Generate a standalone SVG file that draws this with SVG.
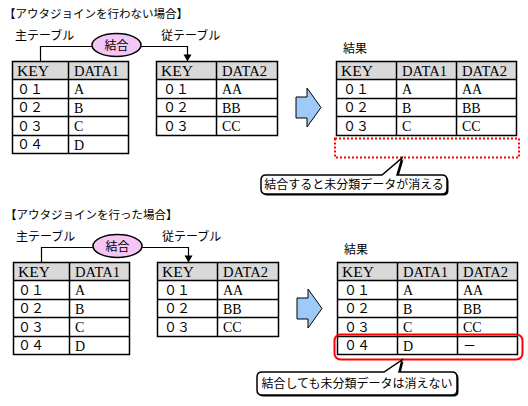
<svg xmlns="http://www.w3.org/2000/svg" width="528" height="406" viewBox="0 0 528 406">
<defs>
<style>
.bg{fill:#fff}
.hdr{fill:#d9d9d9}
.ln{fill:none;stroke:#000;stroke-width:1.5}
.t{font-family:"Liberation Serif","Noto Sans CJK JP",serif;font-size:14px;fill:#000}
.d{font-family:"Noto Sans CJK JP",sans-serif;font-size:13px;fill:#000}
.j{font-family:"Noto Sans CJK JP",sans-serif;font-size:12px;fill:#000}
.ttl{font-family:"Noto Sans CJK JP",sans-serif;font-size:11.5px;fill:#000}
.ell{fill:#f3c6f3;stroke:#000;stroke-width:1.5}
.conn{fill:none;stroke:#000;stroke-width:1.2}
.bigarrow{fill:#9fcaf8;stroke:#000;stroke-width:1}
.callout{fill:#fff;stroke:#000;stroke-width:1.5}
.shadow{fill:#000}
</style>
</defs>
<rect x="0" y="0" width="528" height="406" fill="#fff"/>

<!-- ===== Top section ===== -->
<g id="section-top">
<text class="ttl" x="4" y="17.5">【アウタジョインを行わない場合】</text>
<text class="j" x="15" y="39.5">主テーブル</text>
<text class="j" x="161" y="39.5">従テーブル</text>

<g id="top-connectors">
<path class="conn" d="M40.5,61.5 V46.5 H92"/>
<path class="conn" d="M141,46.5 H187.5 V55"/>
<path d="M183.5,54.5 L191.5,54.5 L187.5,61.5 Z" fill="#000"/>
</g>

<g id="top-join">
<ellipse class="ell" cx="116.5" cy="45" rx="24.5" ry="11.5"/>
<text class="j" x="116.5" y="50" text-anchor="middle">結合</text>
</g>

<g id="top-main-table">
<rect class="bg" x="12.5" y="61.5" width="116" height="92"/>
<rect class="hdr" x="12.5" y="61.5" width="116" height="18"/>
<path class="ln" d="M12.5,61.5 H128.5 V153.5 H12.5 Z M12.5,79.5 H128.5 M12.5,98.5 H128.5 M12.5,116.5 H128.5 M12.5,135.5 H128.5 M68.5,61.5 V153.5"/>
<text class="t" x="17" y="75.5" textLength="32" lengthAdjust="spacingAndGlyphs">KEY</text>
<text class="t" x="74" y="75.5" textLength="45" lengthAdjust="spacingAndGlyphs">DATA1</text>
<text class="d" x="17" y="93.5">０１</text><text class="t" x="74" y="94">A</text>
<text class="d" x="17" y="112">０２</text><text class="t" x="74" y="112.5">B</text>
<text class="d" x="17" y="130.5">０３</text><text class="t" x="74" y="131">C</text>
<text class="d" x="17" y="149">０４</text><text class="t" x="74" y="149.5">D</text>
</g>

<g id="top-sub-table">
<rect class="bg" x="156.5" y="61.5" width="121" height="74"/>
<rect class="hdr" x="156.5" y="61.5" width="121" height="18"/>
<path class="ln" d="M156.5,61.5 H277.5 V135.5 H156.5 Z M156.5,79.5 H277.5 M156.5,98.5 H277.5 M156.5,116.5 H277.5 M216.5,61.5 V135.5"/>
<text class="t" x="161" y="75.5" textLength="32" lengthAdjust="spacingAndGlyphs">KEY</text>
<text class="t" x="222" y="75.5" textLength="45" lengthAdjust="spacingAndGlyphs">DATA2</text>
<text class="d" x="163" y="93.5">０１</text><text class="t" x="222" y="94">AA</text>
<text class="d" x="163" y="112">０２</text><text class="t" x="222" y="112.5">BB</text>
<text class="d" x="163" y="130.5">０３</text><text class="t" x="222" y="131">CC</text>
</g>

<g id="top-arrow">
<polygon class="bigarrow" points="296,97 307,97 307,88 321,107.5 307,127 307,118 296,118"/>
</g>

<g id="top-result-table">
<text class="j" x="343" y="53">結果</text>
<rect class="bg" x="336.5" y="61.5" width="180" height="74"/>
<rect class="hdr" x="336.5" y="61.5" width="180" height="18"/>
<path class="ln" d="M336.5,61.5 H516.5 V135.5 H336.5 Z M336.5,79.5 H516.5 M336.5,98.5 H516.5 M336.5,116.5 H516.5 M396.5,61.5 V135.5 M456.5,61.5 V135.5"/>
<text class="t" x="341" y="75.5" textLength="32" lengthAdjust="spacingAndGlyphs">KEY</text>
<text class="t" x="402" y="75.5" textLength="45" lengthAdjust="spacingAndGlyphs">DATA1</text>
<text class="t" x="462" y="75.5" textLength="45" lengthAdjust="spacingAndGlyphs">DATA2</text>
<text class="d" x="343" y="93.5">０１</text><text class="t" x="402" y="94">A</text><text class="t" x="462" y="94">AA</text>
<text class="d" x="343" y="112">０２</text><text class="t" x="402" y="112.5">B</text><text class="t" x="462" y="112.5">BB</text>
<text class="d" x="343" y="130.5">０３</text><text class="t" x="402" y="131">C</text><text class="t" x="462" y="131">CC</text>
</g>

<g id="top-missing-row">
<rect x="335" y="138.5" width="184" height="19" fill="none" stroke="#f00" stroke-width="2" stroke-dasharray="2 2"/>
</g>

<g id="top-callout">
<path class="shadow" d="M267.5,176.5 H383.5 L403.5,159.5 L398.5,176.5 H443.5 Q448.5,176.5 448.5,181.5 V190.5 Q448.5,195.5 443.5,195.5 H267.5 Q262.5,195.5 262.5,190.5 V181.5 Q262.5,176.5 267.5,176.5 Z"/>
<path class="callout" d="M266,175 H382 L402,158 L397,175 H442 Q447,175 447,180 V189 Q447,194 442,194 H266 Q261,194 261,189 V180 Q261,175 266,175 Z"/>
<text class="j" x="354" y="189" text-anchor="middle">結合すると未分類データが消える</text>
</g>
</g>

<!-- ===== Bottom section ===== -->
<g id="section-bottom">
<g transform="translate(1,201)">
<text class="ttl" x="4" y="17.5">【アウタジョインを行った場合】</text>
<text class="j" x="15" y="39.5">主テーブル</text>
<text class="j" x="161" y="39.5">従テーブル</text>

<g id="bottom-connectors">
<path class="conn" d="M40.5,61.5 V46.5 H92"/>
<path class="conn" d="M141,46.5 H187.5 V55"/>
<path d="M183.5,54.5 L191.5,54.5 L187.5,61.5 Z" fill="#000"/>
</g>

<g id="bottom-join">
<ellipse class="ell" cx="116.5" cy="45" rx="24.5" ry="11.5"/>
<text class="j" x="116.5" y="50" text-anchor="middle">結合</text>
</g>

<g id="bottom-main-table">
<rect class="bg" x="12.5" y="61.5" width="116" height="92"/>
<rect class="hdr" x="12.5" y="61.5" width="116" height="18"/>
<path class="ln" d="M12.5,61.5 H128.5 V153.5 H12.5 Z M12.5,79.5 H128.5 M12.5,98.5 H128.5 M12.5,116.5 H128.5 M12.5,135.5 H128.5 M68.5,61.5 V153.5"/>
<text class="t" x="17" y="75.5" textLength="32" lengthAdjust="spacingAndGlyphs">KEY</text>
<text class="t" x="74" y="75.5" textLength="45" lengthAdjust="spacingAndGlyphs">DATA1</text>
<text class="d" x="17" y="93.5">０１</text><text class="t" x="74" y="94">A</text>
<text class="d" x="17" y="112">０２</text><text class="t" x="74" y="112.5">B</text>
<text class="d" x="17" y="130.5">０３</text><text class="t" x="74" y="131">C</text>
<text class="d" x="17" y="149">０４</text><text class="t" x="74" y="149.5">D</text>
</g>

<g id="bottom-sub-table">
<rect class="bg" x="156.5" y="61.5" width="121" height="74"/>
<rect class="hdr" x="156.5" y="61.5" width="121" height="18"/>
<path class="ln" d="M156.5,61.5 H277.5 V135.5 H156.5 Z M156.5,79.5 H277.5 M156.5,98.5 H277.5 M156.5,116.5 H277.5 M216.5,61.5 V135.5"/>
<text class="t" x="161" y="75.5" textLength="32" lengthAdjust="spacingAndGlyphs">KEY</text>
<text class="t" x="222" y="75.5" textLength="45" lengthAdjust="spacingAndGlyphs">DATA2</text>
<text class="d" x="163" y="93.5">０１</text><text class="t" x="222" y="94">AA</text>
<text class="d" x="163" y="112">０２</text><text class="t" x="222" y="112.5">BB</text>
<text class="d" x="163" y="130.5">０３</text><text class="t" x="222" y="131">CC</text>
</g>

<g id="bottom-arrow">
<polygon class="bigarrow" points="296,97 307,97 307,88 321,107.5 307,127 307,118 296,118"/>
</g>

<g id="bottom-result-table">
<text class="j" x="343" y="53">結果</text>
<rect class="bg" x="336.5" y="61.5" width="180" height="92"/>
<rect class="hdr" x="336.5" y="61.5" width="180" height="18"/>
<path class="ln" d="M336.5,61.5 H516.5 V153.5 H336.5 Z M336.5,79.5 H516.5 M336.5,98.5 H516.5 M336.5,116.5 H516.5 M336.5,135.5 H516.5 M396.5,61.5 V153.5 M456.5,61.5 V153.5"/>
<text class="t" x="341" y="75.5" textLength="32" lengthAdjust="spacingAndGlyphs">KEY</text>
<text class="t" x="402" y="75.5" textLength="45" lengthAdjust="spacingAndGlyphs">DATA1</text>
<text class="t" x="462" y="75.5" textLength="45" lengthAdjust="spacingAndGlyphs">DATA2</text>
<text class="d" x="343" y="93.5">０１</text><text class="t" x="402" y="94">A</text><text class="t" x="462" y="94">AA</text>
<text class="d" x="343" y="112">０２</text><text class="t" x="402" y="112.5">B</text><text class="t" x="462" y="112.5">BB</text>
<text class="d" x="343" y="130.5">０３</text><text class="t" x="402" y="131">C</text><text class="t" x="462" y="131">CC</text>
<text class="d" x="343" y="149">０４</text><text class="t" x="402" y="149.5">D</text><text class="d" x="462" y="149">－</text>
</g>
</g>

<g id="bottom-kept-row">
<rect x="334.5" y="334.5" width="188" height="25" rx="6" fill="none" stroke="#f00" stroke-width="2"/>
</g>

<g id="bottom-callout">
<path class="shadow" d="M263.5,373.5 H385.5 L403.5,361.5 L400.5,373.5 H453.5 Q458.5,373.5 458.5,378.5 V391.5 Q458.5,396.5 453.5,396.5 H263.5 Q258.5,396.5 258.5,391.5 V378.5 Q258.5,373.5 263.5,373.5 Z"/>
<path class="callout" d="M262,372 H384 L402,360 L399,372 H452 Q457,372 457,377 V390 Q457,395 452,395 H262 Q257,395 257,390 V377 Q257,372 262,372 Z"/>
<text class="j" x="357" y="388" text-anchor="middle">結合しても未分類データは消えない</text>
</g>
</g>
</svg>
